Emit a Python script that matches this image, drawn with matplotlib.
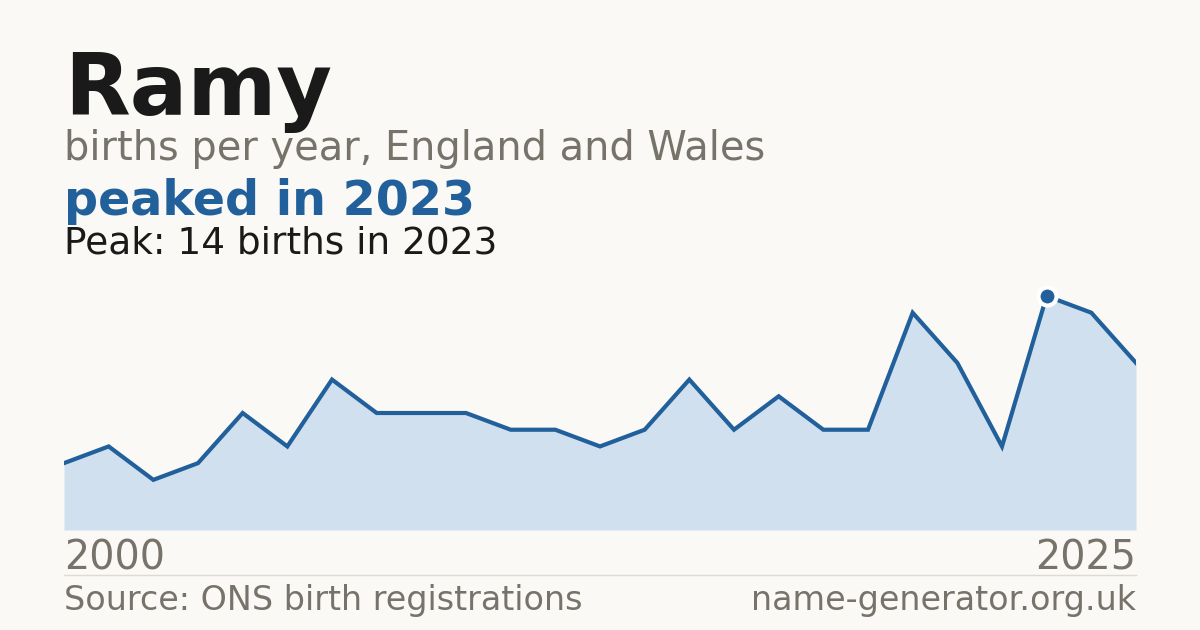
import matplotlib
matplotlib.use("Agg")
import matplotlib.pyplot as plt

# data
years = list(range(2001, 2026))
births = [4, 5, 3, 4, 7, 5, 9, 7, 7, 7, 6, 6, 5, 6, 9, 6, 8, 6, 6, 13, 10, 5, 14, 13, 10]
peak_year = 2023
peak_value = 14
end_labels = ["2000", "2025"]

name = "Ramy"
subtitle = "births per year, England and Wales"
headline = "peaked in %d" % peak_year
peak_note = "Peak: %d births in %d" % (peak_value, peak_year)
source = "Source: ONS birth registrations"
site = "name-generator.org.uk"

BG = "#faf9f5"
BLUE = "#21609a"
FILL = "#d0e0ef"
GRAY = "#77736b"
DARK = "#1a1a1a"

W, H = 1200, 630
fig = plt.figure(figsize=(12, 6.3), dpi=100, facecolor=BG)

# chart area: x 64..1136 px, y 280..530 px
ax = fig.add_axes([64 / W, 1 - 530 / H, 1072 / W, 250 / H])
ax.set_facecolor(BG)
ax.fill_between(years, births, 0, color=FILL, lw=0)
ax.plot(years, births, color=BLUE, lw=3.0, solid_joinstyle="miter")
ax.plot([peak_year], [peak_value], "o", ms=13, color=BLUE,
        mec="white", mew=3, clip_on=False, zorder=5)
ax.set_xlim(years[0], years[-1])
ax.set_ylim(0, peak_value * 250 / 234)
ax.axis("off")

# header text
fig.text(64 / W, 1 - 115 / H, name, fontsize=61.5, fontweight="bold", color=DARK)
fig.text(64 / W, 1 - 160 / H, subtitle, fontsize=28.7, color=GRAY)
fig.text(64 / W, 1 - 215 / H, headline, fontsize=34.3, fontweight="bold", color=BLUE)
fig.text(64 / W, 1 - 254 / H, peak_note, fontsize=27, color=DARK)

# x end labels
fig.text(64 / W, 1 - 570 / H, end_labels[0], fontsize=28.5, color=GRAY)
fig.text(1136 / W, 1 - 570 / H, end_labels[1], fontsize=28.5, color=GRAY, ha="right")

# separator
fig.add_artist(plt.Line2D([64 / W, 1136 / W], [1 - 575 / H, 1 - 575 / H],
                          color="#dddad3", lw=1))

# footer
fig.text(64 / W, 1 - 610 / H, source, fontsize=24, color=GRAY)
fig.text(1136 / W, 1 - 610 / H, site, fontsize=24, color=GRAY, ha="right")

fig.savefig("out.png", dpi=100, facecolor=BG)
